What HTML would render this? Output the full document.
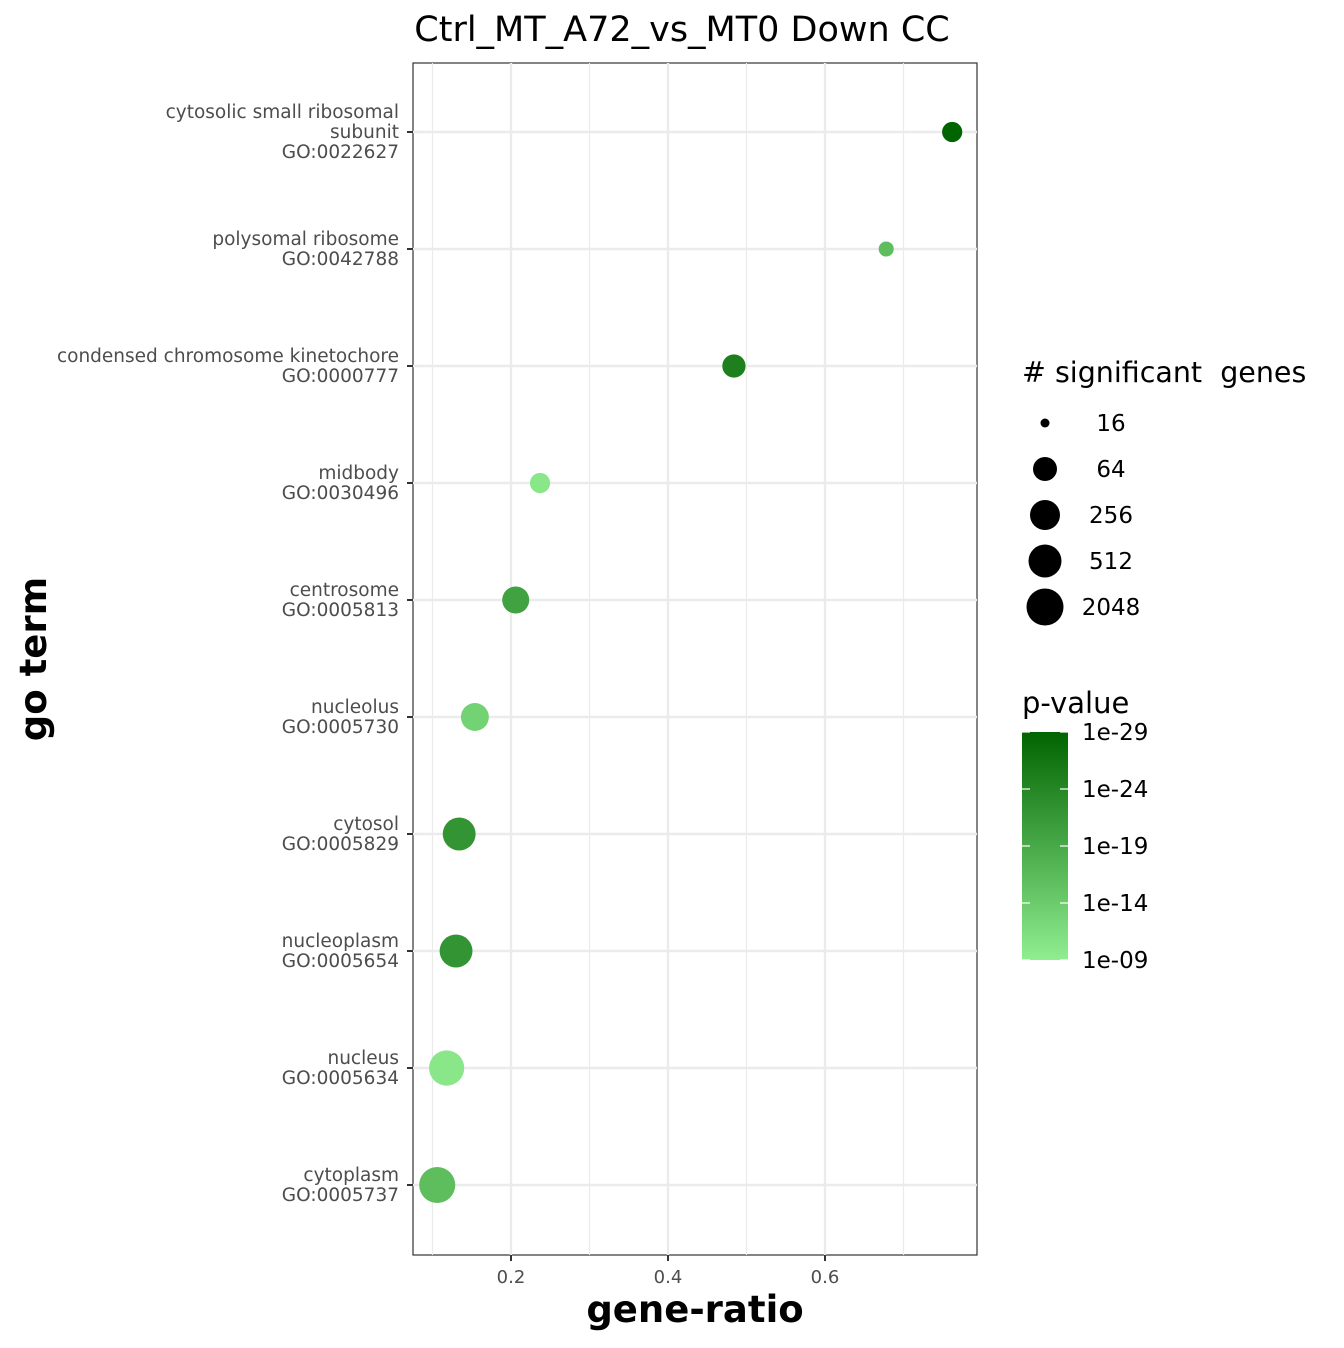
<!DOCTYPE html>
<html><head><meta charset="utf-8"><style>
body{margin:0;background:#fff;font-family:"DejaVu Sans","Liberation Sans",sans-serif;}
</style></head><body>
<svg id="c" width="1344" height="1344" xmlns="http://www.w3.org/2000/svg">
<defs><linearGradient id="g" x1="0" y1="1" x2="0" y2="0"><stop offset="0" stop-color="#90EE90"/><stop offset="1" stop-color="#006400"/></linearGradient></defs>
<text x="682" y="41" font-size="35" text-anchor="middle">Ctrl_MT_A72_vs_MT0 Down CC</text>
<rect x="413" y="63" width="564" height="1192" fill="#fff" stroke="#333" stroke-width="1.2"/>
<g id="grid"></g><g id="pts"></g><g id="axes"></g>
<text x="695" y="1322" font-size="37" font-weight="bold" text-anchor="middle">gene-ratio</text>
<text transform="translate(46,659) rotate(-90)" font-size="37" font-weight="bold" text-anchor="middle">go term</text>
<text x="1022" y="382" font-size="28.5" style="white-space:pre" xml:space="preserve"># significant  genes</text>
<g id="sleg"></g>
<text x="1022" y="713" font-size="29">p-value</text>
<rect x="1022" y="732" width="46" height="228" fill="url(#g)"/>
<g id="cleg"></g>
</svg>
<script>
const terms=[["cytosolic small ribosomal","subunit","GO:0022627"],["polysomal ribosome","GO:0042788"],["condensed chromosome kinetochore","GO:0000777"],["midbody","GO:0030496"],["centrosome","GO:0005813"],["nucleolus","GO:0005730"],["cytosol","GO:0005829"],["nucleoplasm","GO:0005654"],["nucleus","GO:0005634"],["cytoplasm","GO:0005737"]];
const ratios=[0.762,0.678,0.484,0.237,0.206,0.154,0.134,0.130,0.118,0.106];
const counts=[45,28,60,45,130,160,500,500,1100,1500];
const pexp=[-29,-16,-25,-10,-20,-13,-22,-22,-10,-16];
const xTicks=[0.2,0.4,0.6];
const sizeBreaks=[16,64,256,512,2048];
const sizeRadii=[4.5,12,15,16.5,18.5];
const pTicks=[-29,-24,-19,-14,-9];
const NS="http://www.w3.org/2000/svg";
const x=v=>511+(v-0.2)*785;
const y=i=>132+i*117;
function rad(n){const l=Math.log2(n),b=sizeBreaks.map(Math.log2);if(l<=b[0])return sizeRadii[0]*Math.sqrt(n/16);for(let k=1;k<b.length;k++)if(l<=b[k])return sizeRadii[k-1]+(sizeRadii[k]-sizeRadii[k-1])*(l-b[k-1])/(b[k]-b[k-1]);return sizeRadii[4];}
function col(e){const t=Math.min(1,Math.max(0,(e+9)/-20));const a=[0x90,0xEE,0x90],b=[0,0x64,0];return `rgb(${a.map((v,i)=>Math.round(v+(b[i]-v)*t)).join(',')})`;}
function mk(tag,at,par){const e=document.createElementNS(NS,tag);for(const k in at)e.setAttribute(k,at[k]);document.getElementById(par).appendChild(e);return e;}
[0.1,0.3,0.5,0.7].forEach(v=>{const l=mk('line',{x1:x(v),x2:x(v),y1:63,y2:1255,stroke:'#ebebeb','stroke-width':1.2},'grid');});
xTicks.forEach(v=>{const l=mk('line',{x1:x(v),x2:x(v),y1:63,y2:1255,stroke:'#ebebeb','stroke-width':2.4},'grid');
const t=mk('line',{x1:x(v),x2:x(v),y1:1255,y2:1261,stroke:'#333','stroke-width':2},'axes');
const tx=mk('text',{x:x(v),y:1283,'font-size':18,fill:'#4d4d4d','text-anchor':'middle'},'axes');tx.textContent=v.toFixed(1);});
terms.forEach((lines,i)=>{const l=mk('line',{x1:413,x2:977,y1:y(i),y2:y(i),stroke:'#ebebeb','stroke-width':2.4},'grid');
const t=mk('line',{x1:407,x2:413,y1:y(i),y2:y(i),stroke:'#333','stroke-width':2},'axes');
const n=lines.length;lines.forEach((s,j)=>{const tx=mk('text',{x:399,y:y(i)+6+(j-(n-1)/2)*20,'font-size':18.5,fill:'#4d4d4d','text-anchor':'end'},'axes');tx.textContent=s;});
const c=mk('circle',{cx:x(ratios[i]),cy:y(i),r:rad(counts[i]),fill:col(pexp[i])},'pts');});
sizeBreaks.forEach((b,k)=>{const cy=423+k*46;const c=mk('circle',{cx:1045,cy:cy,r:sizeRadii[k],fill:'#000'},'sleg');
const t=mk('text',{x:1111,y:cy+8,'font-size':23,'text-anchor':'middle'},'sleg');t.textContent=b;});
pTicks.forEach(e=>{const cy=960-(e+9)/-20*228;[1022,1060].forEach(x0=>{const l=mk('line',{x1:x0,x2:x0+8,y1:cy,y2:cy,stroke:'#fff','stroke-width':1.2},'cleg');});
const t=mk('text',{x:1082,y:cy+8,'font-size':23},'cleg');t.textContent='1e-'+String(-e).padStart(2,'0');});
</script>
</body></html>
